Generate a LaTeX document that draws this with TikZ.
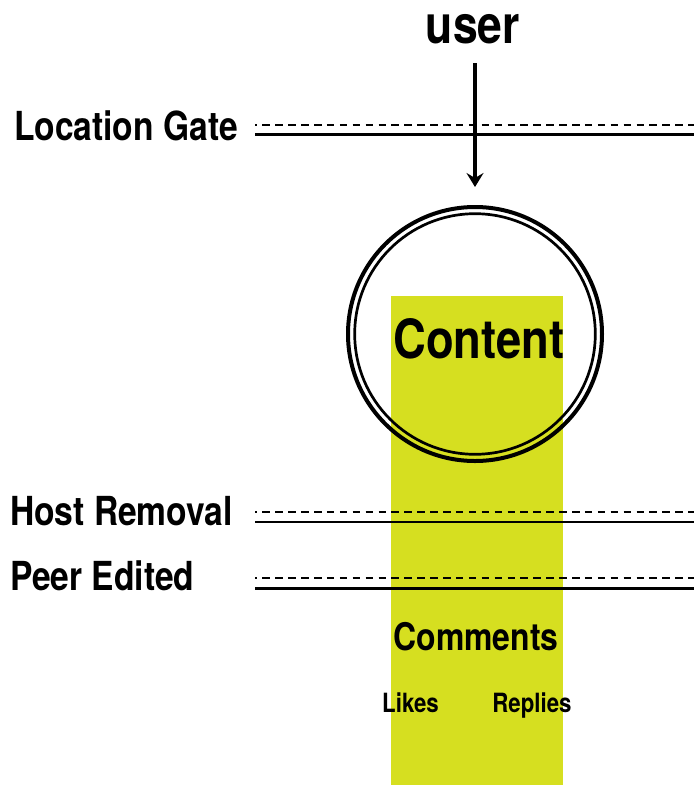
\documentclass[tikz,border=0pt]{standalone}
\usepackage{fontspec}
\setmainfont{TeX Gyre Heros}[FakeStretch=0.84]
\usetikzlibrary{arrows.meta}
\definecolor{lime}{RGB}{214,223,32}

\begin{document}
\begin{tikzpicture}[x=1pt,y=-1pt,
  txt/.style={inner sep=0pt, outer sep=0pt, font=\bfseries\fontsize{#1}{#1}\selectfont},
  gatelabel/.style={txt=40, anchor=base west},
  gatedash/.style={line width=2pt, dash pattern=on 7.5pt off 5.4pt, dash phase=5.5pt},
  gatesolid/.style={line width=2.7pt},
  flow/.style={line width=4pt, -{Stealth[length=14pt,width=17pt,inset=5pt]}},
]
\useasboundingbox (0,0) rectangle (694,785);

% highlighted column behind the content
\fill[lime] (391,296) rectangle (563,785);

% content ring: two concentric circles
\node[circle, draw, line width=4pt, minimum size=254pt, inner sep=0pt, outer sep=0pt] (circ) at (475,334) {};
\draw[line width=2.7pt] (circ.center) circle (120.3pt);

% gates: dashed over solid
\draw[gatedash]  (255,125) -- (694,125);
\draw[gatesolid] (255,134.5) -- (694,134.5);
\draw[gatedash]  (255,512) -- (694,512);
\draw[gatesolid] (255,522) -- (694,522);
\draw[gatedash]  (255,578) -- (694,578);
\draw[gatesolid] (255,588.5) -- (694,588.5);

% labels
\node[txt=53, anchor=base] (user) at (473,43) {user};
\node[gatelabel] (gate) at (14,140) {Location Gate};
\node[gatelabel] (host) at (10,525) {Host Removal};
\node[gatelabel] (peer) at (10,590) {Peer Edited};
\node[txt=54, anchor=base] (content) at (479,358) {Content};
\node[txt=38, anchor=base] (comments) at (476,650) {Comments};
\node[txt=26.5, anchor=base] (likes) at (410.5,712) {Likes};
\node[txt=26.5, anchor=base] (replies) at (532,712) {Replies};

% user enters through the gate
\draw[flow, shorten <=20pt, shorten >=20pt] (user.south -| circ.north) -- (circ.north);
\end{tikzpicture}
\end{document}
